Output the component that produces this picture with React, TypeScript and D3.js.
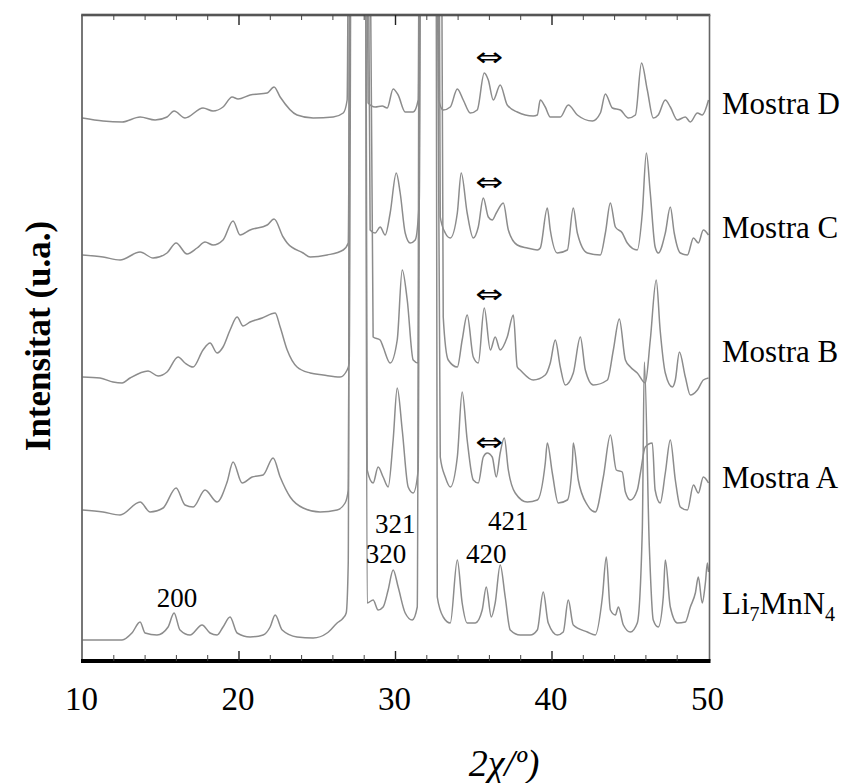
import React from "react";
import * as d3 from "d3";

const W = 862;
const H = 783;

// x axis (2θ) ticks
const majorTicks = [10, 20, 30, 40, 50];
const innerMajorTicks = [20, 30, 40];
const minorTicks = [12, 14, 16, 18, 22, 24, 26, 28, 32, 34, 36, 38, 42, 44, 46, 48];

// series labels
const seriesNames = ["Mostra D", "Mostra C", "Mostra B", "Mostra A"];

// diffraction traces [2θ, intensity (u.a., stacked)]
const mostraD: [number, number][] = [
  [10.0, 544], [11.31, 541], [12.53, 540], [13.68, 545], [14.64, 542], [15.4, 545], [15.85, 551],
  [16.55, 544], [17.7, 554], [18.34, 551], [18.98, 555], [19.56, 565], [19.94, 563], [20.71, 567],
  [21.8, 569], [22.24, 575], [22.63, 565], [23.71, 547], [24.74, 544], [26.02, 545], [26.66, 549],
  [26.91, 562], [27.05, 900], [28.12, 900], [28.25, 559], [28.7, 555], [29.15, 556], [29.47, 554],
  [29.85, 573], [30.17, 567], [30.62, 550], [31.13, 550], [31.45, 562], [31.55, 900], [32.68, 900],
  [32.76, 562], [33.05, 552], [33.5, 555], [33.95, 573], [34.33, 562], [34.78, 549], [35.22, 552],
  [35.67, 589], [35.93, 582], [36.25, 562], [36.69, 577], [37.14, 557], [37.78, 550], [38.8, 546],
  [39.06, 547], [39.25, 562], [39.57, 555], [39.89, 545], [40.53, 545], [41.04, 557], [41.62, 547],
  [42.58, 541], [43.09, 549], [43.41, 568], [43.86, 554], [44.37, 552], [44.88, 544], [45.33, 547],
  [45.72, 599], [46.09, 572], [46.47, 544], [46.79, 547], [47.24, 562], [47.56, 555], [48.01, 542],
  [48.52, 545], [48.84, 540], [49.29, 549], [49.6, 547], [50.0, 562],
];

const mostraC: [number, number][] = [
  [10.0, 407], [11.31, 405], [12.4, 402], [13.68, 410], [14.51, 404], [15.4, 409], [15.98, 419],
  [16.68, 408], [17.32, 414], [17.83, 420], [18.34, 417], [18.98, 422], [19.62, 441], [20.07, 427],
  [20.71, 432], [21.8, 437], [22.24, 443], [22.82, 425], [23.08, 419], [24.1, 409], [24.55, 405],
  [25.63, 407], [26.66, 412], [26.98, 419], [27.15, 900], [28.2, 900], [28.38, 432], [28.7, 429],
  [29.02, 435], [29.34, 427], [29.66, 449], [30.05, 489], [30.3, 469], [30.62, 429], [30.94, 419],
  [31.26, 422], [31.52, 462], [31.65, 900], [32.75, 900], [32.86, 445], [33.18, 429], [33.5, 424],
  [33.95, 449], [34.2, 489], [34.58, 449], [34.97, 424], [35.29, 435], [35.61, 464], [35.93, 445],
  [36.18, 442], [36.44, 449], [36.89, 459], [37.21, 432], [37.78, 417], [38.42, 414], [39.06, 412],
  [39.25, 414], [39.7, 454], [39.89, 432], [40.34, 409], [40.98, 412], [41.36, 454], [41.62, 429],
  [42.26, 409], [43.09, 407], [43.41, 429], [43.73, 459], [44.05, 435], [44.49, 429], [44.81, 419],
  [45.45, 412], [45.77, 449], [46.03, 509], [46.28, 469], [46.59, 415], [46.79, 409], [47.24, 429],
  [47.56, 455], [47.81, 429], [48.2, 409], [48.65, 407], [49.04, 424], [49.35, 419], [49.67, 432],
  [50.0, 427],
];

const mostraB: [number, number][] = [
  [10.0, 285], [11.12, 284], [11.95, 280], [12.53, 279], [13.04, 284], [14.19, 291], [14.83, 286],
  [15.4, 290], [16.11, 305], [16.55, 299], [17.07, 295], [17.7, 312], [18.15, 319], [18.6, 309],
  [18.98, 315], [19.43, 332], [19.88, 345], [20.26, 336], [20.71, 340], [21.48, 344], [22.31, 349],
  [22.63, 335], [23.08, 312], [23.71, 295], [24.55, 289], [25.38, 287], [26.46, 285], [26.91, 292],
  [27.04, 299], [27.2, 900], [28.3, 900], [28.57, 325], [29.02, 322], [29.21, 315], [29.66, 299],
  [30.11, 322], [30.43, 392], [30.75, 362], [31.13, 302], [31.45, 299], [31.6, 900], [32.9, 900],
  [33.05, 345], [33.37, 302], [33.95, 295], [34.26, 322], [34.58, 347], [34.97, 305], [35.29, 299],
  [35.67, 354], [36.06, 312], [36.37, 325], [36.69, 312], [37.14, 325], [37.53, 347], [37.78, 295],
  [37.97, 292], [38.8, 282], [39.57, 287], [39.89, 299], [40.21, 322], [40.53, 295], [40.85, 277],
  [41.36, 289], [41.81, 325], [42.13, 292], [42.64, 277], [43.54, 282], [43.92, 312], [44.3, 343],
  [44.69, 302], [45.01, 295], [45.45, 289], [45.96, 279], [46.28, 322], [46.66, 382], [46.91, 332],
  [47.24, 289], [47.69, 275], [47.88, 282], [48.14, 310], [48.52, 285], [48.84, 267], [49.29, 272],
  [49.67, 282], [50.0, 284],
];

const mostraA: [number, number][] = [
  [10.0, 152], [11.31, 150], [12.4, 147], [13.68, 160], [14.32, 150], [15.15, 154], [15.98, 174],
  [16.55, 157], [17.07, 155], [17.83, 172], [18.6, 160], [19.24, 180], [19.62, 200], [20.2, 179],
  [20.84, 185], [21.54, 187], [22.18, 204], [22.63, 185], [23.27, 165], [24.1, 154], [25.18, 150],
  [26.27, 152], [26.78, 159], [26.98, 172], [27.12, 900], [28.08, 900], [28.19, 192], [28.57, 179],
  [28.89, 195], [29.21, 185], [29.53, 175], [29.85, 222], [30.11, 274], [30.43, 232], [30.81, 175],
  [31.13, 169], [31.45, 192], [31.6, 900], [32.6, 900], [32.86, 205], [33.18, 185], [33.5, 175],
  [33.95, 205], [34.26, 270], [34.58, 222], [34.97, 182], [35.29, 179], [35.61, 205], [35.86, 209],
  [36.18, 205], [36.44, 185], [36.69, 209], [36.95, 224], [37.21, 192], [37.65, 169], [38.42, 160],
  [39.06, 162], [39.57, 199], [39.7, 219], [40.02, 189], [40.4, 159], [40.98, 162], [41.3, 199],
  [41.36, 219], [41.68, 182], [42.26, 157], [42.77, 150], [43.28, 185], [43.73, 227], [44.11, 192],
  [44.49, 190], [44.69, 170], [45.01, 162], [45.45, 172], [45.65, 189], [45.96, 215], [46.41, 219],
  [46.59, 172], [46.91, 159], [47.24, 189], [47.56, 222], [47.88, 182], [48.2, 155], [48.65, 152],
  [49.04, 177], [49.35, 169], [49.67, 185], [50.0, 179],
];

const li7MnN4: [number, number][] = [
  [10.0, 22], [12.53, 22], [13.16, 29], [13.68, 40], [14.0, 29], [14.76, 27], [15.47, 35], [15.85, 49],
  [16.23, 32], [16.87, 27], [17.64, 37], [18.15, 29], [18.6, 27], [18.98, 35], [19.43, 45], [19.88, 29],
  [20.71, 25], [21.54, 27], [21.99, 35], [22.31, 47], [22.76, 32], [23.71, 25], [24.74, 24], [25.63, 29],
  [26.27, 39], [26.66, 44], [26.85, 49], [26.98, 99], [27.1, 900], [28.05, 900], [28.19, 59],
  [28.57, 62], [28.89, 52], [29.21, 55], [29.53, 72], [29.85, 92], [30.17, 75], [30.62, 49], [31.07, 42],
  [31.39, 55], [31.55, 900], [32.58, 900], [32.67, 65], [33.05, 45], [33.5, 39], [33.95, 102],
  [34.26, 59], [34.58, 39], [35.1, 39], [35.54, 52], [35.8, 75], [36.12, 45], [36.37, 59], [36.69, 97],
  [37.01, 65], [37.33, 32], [37.97, 27], [38.61, 27], [39.06, 32], [39.44, 70], [39.76, 39], [40.34, 27],
  [40.72, 30], [41.04, 62], [41.36, 37], [42.26, 30], [42.77, 27], [43.22, 65], [43.47, 105], [43.73, 52],
  [44.05, 47], [44.24, 55], [44.56, 37], [45.01, 30], [45.45, 39], [45.77, 132], [45.9, 300],
  [46.22, 115], [46.47, 42], [46.79, 35], [47.11, 65], [47.24, 102], [47.56, 55], [48.01, 39],
  [48.52, 40], [48.84, 55], [49.16, 69], [49.35, 85], [49.6, 59], [49.8, 79], [49.93, 99], [50.0, 90],
];

// peak annotations (hkl) [label, 2θ, level]
const hklLabels: [string, number, number][] = [
  ["200", 16.04, 55],
  ["320", 29.4, 99],
  ["321", 29.98, 129],
  ["420", 35.8, 99],
  ["421", 37.2, 132],
];

// split-peak markers [2θ, level]
const arrowMarks: [number, number][] = [
  [36.0, 605],
  [36.0, 480],
  [36.0, 368],
  [36.0, 220],
];

export default function App() {
  const x = d3.scaleLinear().domain([10, 50]).range([82.5, 708.5]);
  const y = d3.scaleLinear().domain([0, 648]).range([662, 14]);
  const line = d3
    .line<[number, number]>()
    .x((d) => x(d[0]))
    .y((d) => y(d[1]))
    .curve(d3.curveMonotoneX);

  const traces = [mostraD, mostraC, mostraB, mostraA, li7MnN4];
  const labelY = [114, 238, 362, 488];

  const left = x(10) - 0.5;
  const right = x(50) + 1;
  const top = 15;
  const bottom = 661;
  const serif = "'Liberation Serif', 'Times New Roman', serif";

  return (
    <svg
      width={W}
      height={H}
      style={{ position: "absolute", left: 0, top: 0, background: "#fff" }}
    >
      <defs>
        <clipPath id="plotClip">
          <rect x={left} y={top} width={right - left} height={bottom - top} />
        </clipPath>
      </defs>

      {/* traces */}
      <g clipPath="url(#plotClip)">
        {traces.map((t, i) => (
          <path
            key={i}
            d={line(t) || ""}
            fill="none"
            stroke="#8c8c8c"
            strokeWidth={1.5}
            strokeLinejoin="round"
          />
        ))}
      </g>

      {/* frame */}
      <rect x={left - 0.8} y={top - 1.3} width={right - left + 1.6} height={2.6} fill="#555" />
      <line x1={left} x2={left} y1={top} y2={bottom} stroke="#555" strokeWidth={1.6} />
      <line x1={right} x2={right} y1={top} y2={bottom} stroke="#666" strokeWidth={1.6} />
      <line x1={left - 1} x2={right + 1} y1={bottom} y2={bottom} stroke="#000" strokeWidth={4} />

      {/* ticks */}
      {minorTicks.map((t) => (
        <g key={"m" + t}>
          <line x1={x(t)} x2={x(t)} y1={bottom} y2={bottom - 6} stroke="#444" strokeWidth={1} />
          <line x1={x(t)} x2={x(t)} y1={top} y2={top + 5} stroke="#444" strokeWidth={1} />
        </g>
      ))}
      {innerMajorTicks.map((t) => (
        <g key={"M" + t}>
          <line x1={x(t)} x2={x(t)} y1={bottom} y2={bottom - 10} stroke="#222" strokeWidth={1.4} />
          <line x1={x(t)} x2={x(t)} y1={top} y2={top + 10} stroke="#222" strokeWidth={1.4} />
        </g>
      ))}

      {/* tick labels */}
      {majorTicks.map((t) => (
        <text
          key={"l" + t}
          x={x(t) - 1}
          y={710}
          textAnchor="middle"
          fontFamily={serif}
          fontSize={33}
          fill="#000"
        >
          {t}
        </text>
      ))}

      {/* x title */}
      <text
        x={504}
        y={776}
        textAnchor="middle"
        fontFamily={serif}
        fontStyle="italic"
        fontSize={38}
        fill="#000"
      >
        2χ/º)
      </text>

      {/* y title */}
      <text
        transform={`translate(50, 336) rotate(-90)`}
        textAnchor="middle"
        fontFamily={serif}
        fontWeight="bold"
        fontSize={35}
        fill="#000"
      >
        Intensitat (u.a.)
      </text>

      {/* series labels */}
      {seriesNames.map((n, i) => (
        <text key={n} x={722} y={labelY[i]} fontFamily={serif} fontSize={31} fill="#000">
          {n}
        </text>
      ))}
      <text x={722} y={614} fontFamily={serif} fontSize={31} fill="#000">
        Li
        <tspan fontSize={20} dy={7}>7</tspan>
        <tspan dy={-7}>MnN</tspan>
        <tspan fontSize={20} dy={7}>4</tspan>
      </text>

      {/* hkl labels */}
      {hklLabels.map(([s, t, v]) => (
        <text
          key={s}
          x={x(t)}
          y={y(v)}
          textAnchor="middle"
          fontFamily={serif}
          fontSize={27}
          fill="#000"
        >
          {s}
        </text>
      ))}

      {/* split-peak arrows */}
      {arrowMarks.map(([t, v], i) => (
        <text
          key={"a" + i}
          x={x(t) - 14}
          y={y(v)}
          dominantBaseline="central"
          fontFamily="'DejaVu Sans', sans-serif"
          fontSize={26}
          textLength={28}
          lengthAdjust="spacingAndGlyphs"
          fill="#000"
        >
          ⇔
        </text>
      ))}
    </svg>
  );
}
